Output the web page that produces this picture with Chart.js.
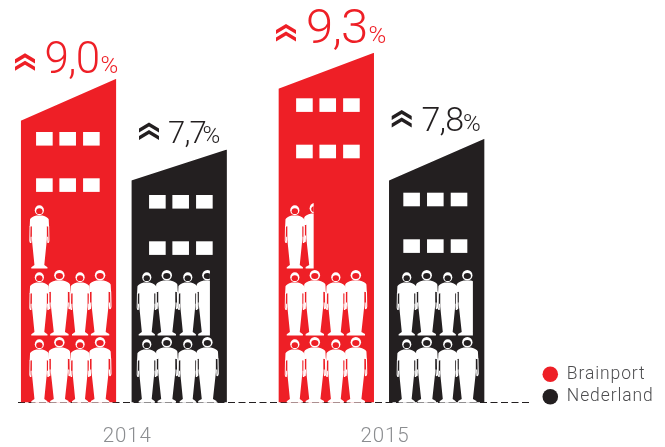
<!DOCTYPE html>
<html><head><meta charset="utf-8">
<style>html,body{margin:0;padding:0;background:#fff}canvas{display:block}</style>
<script src="https://cdn.jsdelivr.net/npm/chart.js@4"></script>
</head><body>
<div style="width:665px;height:447px"><canvas id="c" width="665" height="447"></canvas></div>
<script>
// Data
const years = ["2014", "2015"];
const seriesNames = ["Brainport", "Nederland"];
const brainportRate = [9.0, 9.3];
const nederlandRate = [7.7, 7.8];
// Drawn building height (on the y scale), high and low end of the roof
const brainportRoofHigh = [9.0, 9.72];
const brainportRoofLow = [7.83, 8.72];
const nederlandRoofHigh = [7.03, 7.33];
const nederlandRoofLow = [6.17, 6.17];
// Visible share of the last, partial person
const brainportPartial = [1, 0.45];
const nederlandPartial = [0.61, 0.74];

const RED = "#ee1f26", BLACK = "#231f20", GREY = "#8b8d90";
const FONT = "Roboto, sans-serif";

// Layout of the pictogram details, per dataset then per year
const layoutInfo = [
  [ { win:[15.3,38.6,62.3], winY:[132,178.3], people:[18.6,38.6,59.3,79.3],
      chev:[15,53.3], num:[44,44.5,72.7], pct:[100.5,72.7,24] },
    { win:[17.7,41,64.7], winY:[98.3,144.7], people:[16.4,36.4,57.4,77.4],
      chev:[276,24], num:[49,306,42.7], pct:[368.5,42.7,24] } ],
  [ { win:[17.7,41,64.7], winY:[195,241.3], people:[15.4,35.4,56.4,76],
      chev:[139,122.5], num:[31,168,143.3], pct:[202.5,143.3,24] },
    { win:[14.3,38,61.7], winY:[192.7,239.3], people:[17.7,37.7,58.7,78.3],
      chev:[391.7,110], num:[34,421.5,130.7], pct:[463,130.7,24] } ]
];
const rates = [brainportRate, nederlandRate];
const roofLow = [brainportRoofLow, nederlandRoofLow];
const partial = [brainportPartial, nederlandPartial];

function drawPerson(ctx, cx, footY, wide, fill) {
  const h = wide ? 65.3 : 63;
  const sx = wide ? 1 : 0.88;
  const k = h / 65.3;
  ctx.save();
  ctx.translate(cx, footY);
  ctx.scale(sx, k);
  ctx.fillStyle = "#fff";
  ctx.strokeStyle = "#fff";
  ctx.beginPath();
  ctx.moveTo(-3.5, -55);
  ctx.lineTo(3.5, -55);
  ctx.quadraticCurveTo(9.5, -53.5, 10.6, -51);
  ctx.lineTo(11, -43.5);
  ctx.lineTo(8.8, -43.5);
  ctx.lineTo(8.5, -44);
  ctx.lineTo(8.5, -30);
  ctx.lineTo(5.6, -3.5);
  ctx.lineTo(9.2, -1.4);
  ctx.lineTo(9.2, 0);
  ctx.lineTo(-9.2, 0);
  ctx.lineTo(-9.2, -1.4);
  ctx.lineTo(-5.6, -3.5);
  ctx.lineTo(-8.5, -30);
  ctx.lineTo(-8.5, -44);
  ctx.lineTo(-8.8, -43.5);
  ctx.lineTo(-11, -43.5);
  ctx.lineTo(-10.6, -51);
  ctx.quadraticCurveTo(-9.5, -53.5, -3.5, -55);
  ctx.closePath();
  ctx.fill();
  // outlined arms
  ctx.lineWidth = 1.1;
  [-1, 1].forEach(s => {
    ctx.beginPath();
    ctx.moveTo(s * 10.6, -44);
    ctx.lineTo(s * 10.9, -29);
    ctx.quadraticCurveTo(s * 10.6, -26.5, s * 9.6, -27);
    ctx.lineTo(s * 9.3, -33);
    ctx.stroke();
  });
  // head
  ctx.beginPath();
  ctx.ellipse(0, -60.3, 5.2, 5.2, 0, 0, Math.PI * 2);
  ctx.fill();
  ctx.fillStyle = fill;
  ctx.beginPath();
  ctx.ellipse(0, -59.4, 3.6, 3, 0, 0, Math.PI * 2);
  ctx.fill();
  ctx.restore();
}

function drawChevrons(ctx, x, y, color) {
  const w = 20, rise = 6, th = 4.1;
  ctx.fillStyle = color;
  [0, 7.4].forEach(off => {
    const t = y + off;
    ctx.beginPath();
    ctx.moveTo(x, t + rise);
    ctx.lineTo(x + w / 2, t);
    ctx.lineTo(x + w, t + rise);
    ctx.lineTo(x + w, t + rise + th);
    ctx.lineTo(x + w / 2, t + th);
    ctx.lineTo(x, t + rise + th);
    ctx.closePath();
    ctx.fill();
  });
}

const roofPlugin = {
  id: "roof",
  beforeDraw(chart) {
    // place the legend at the lower right, outside the plot
    const lg = chart.legend;
    lg.left = 537.5; lg.right = 665; lg.top = 360.5; lg.bottom = 447;
    chart.ctx.letterSpacing = "0.9px";
    // dashed ground line
    const ctx = chart.ctx, y0 = chart.scales.y.getPixelForValue(0);
    ctx.save();
    ctx.strokeStyle = BLACK; ctx.lineWidth = 1.2; ctx.setLineDash([7, 3.5]);
    ctx.beginPath(); ctx.moveTo(18, y0); ctx.lineTo(531, y0); ctx.stroke();
    ctx.restore();
  },
  beforeDatasetDraw(chart, args) {
    const ctx = chart.ctx, y = chart.scales.y;
    ctx.save();
    ctx.beginPath();
    args.meta.data.forEach((bar, i) => {
      const l = bar.x - bar.width / 2, r = bar.x + bar.width / 2;
      ctx.moveTo(l, y.getPixelForValue(roofLow[args.index][i]));
      ctx.lineTo(r, bar.y);
      ctx.lineTo(r, bar.base);
      ctx.lineTo(l, bar.base);
      ctx.closePath();
    });
    ctx.clip();
  },
  afterDatasetDraw(chart) { chart.ctx.restore(); },
  afterDatasetsDraw(chart) {
    const ctx = chart.ctx;
    ctx.save();
    chart.data.datasets.forEach((ds, d) => {
      const color = ds.backgroundColor;
      chart.getDatasetMeta(d).data.forEach((bar, i) => {
        const info = layoutInfo[d][i];
        const left = bar.x - bar.width / 2;
        // windows
        ctx.fillStyle = "#fff";
        info.winY.forEach(wy => info.win.forEach(wx => ctx.fillRect(left + wx, wy, 16.6, 13.6)));
        // people: one pictogram per percent
        const rate = rates[d][i];
        const count = Math.ceil(rate - 1e-9);
        const base = bar.base;
        for (let n = 0; n < count; n++) {
          const col = n % 4, row = Math.floor(n / 4);
          const cx = left + info.people[col];
          const wide = col % 2 === 1;
          const isPart = n === count - 1 && partial[d][i] < 1;
          ctx.save();
          if (isPart) {
            ctx.beginPath();
            ctx.rect(cx - 11.6, base - 67 * (row + 1), 23.2 * partial[d][i], 70);
            ctx.clip();
          }
          drawPerson(ctx, cx, base - 67 * row, wide, color);
          ctx.restore();
        }
        // value labels
        const text = rate.toFixed(1).replace(".", ",");
        drawChevrons(ctx, info.chev[0], info.chev[1], color);
        ctx.fillStyle = color;
        ctx.textAlign = "left"; ctx.textBaseline = "alphabetic";
        ctx.letterSpacing = "-0.8px";
        ctx.font = "300 " + info.num[0] + "px " + FONT;
        ctx.fillText(text, info.num[1], info.num[2]);
        ctx.letterSpacing = "0px";
        ctx.font = "300 " + info.pct[2] + "px " + FONT;
        ctx.fillText("%", info.pct[0], info.pct[1]);
      });
    });
    ctx.restore();
  }
};

new Chart(document.getElementById("c"), {
  type: "bar",
  data: {
    labels: years,
    datasets: [
      { label: seriesNames[0], data: brainportRoofHigh, backgroundColor: RED, clip: false },
      { label: seriesNames[1], data: nederlandRoofHigh, backgroundColor: BLACK, clip: false }
    ]
  },
  plugins: [roofPlugin],
  options: {
    responsive: false,
    animation: false,
    layout: { padding: { left: 123.85, right: 283.5, top: 0, bottom: 0 } },
    datasets: { bar: { categoryPercentage: 0.8585, barPercentage: 0.864 } },
    plugins: {
      tooltip: { enabled: false },
      legend: {
        position: "chartArea",
        align: "start",
        labels: {
          usePointStyle: true, pointStyle: "circle",
          boxHeight: 11, pointStyleWidth: 15.56,
          padding: 5,
          color: "#4d4d4f",
          font: { family: "Roboto", size: 17.5, weight: "300" }
        }
      }
    },
    scales: {
      y: { display: false, min: 0, max: 11.186 },
      x: {
        offset: false,
        grid: { display: false, drawTicks: false },
        border: { display: false },
        afterFit(s) { s.height = 44.5; },
        ticks: {
          color: GREY, padding: 22, labelOffset: 3.5, maxRotation: 0,
          font: { family: "Roboto", size: 20.5, weight: "300" }
        }
      }
    }
  }
});
</script>
</body></html>
